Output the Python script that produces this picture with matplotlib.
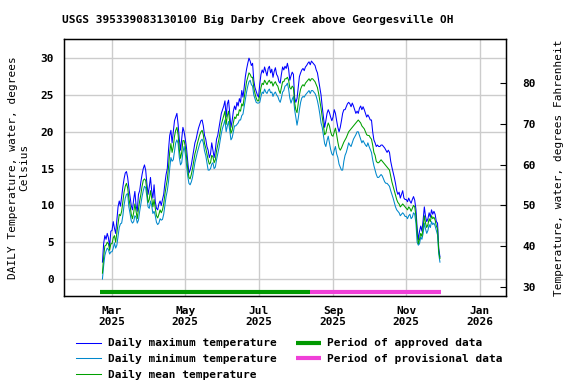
import matplotlib
matplotlib.use("Agg")
import matplotlib.pyplot as plt
import matplotlib.dates as mdates
import numpy as np
import pandas as pd

# daily values, degrees Celsius, starting 2025-02-21
start_date = "2025-02-21"

max_temp = (
    # Feb 21-28
    [2.3, 4.8, 5.9, 5.4, 6.2, 5.6, 4.4, 6.5]
    # Mar
    + [6.6, 7.8, 6.9, 6.2, 8.0, 9.8, 10.6, 9.9, 11.2, 12.5, 13.6, 14.4, 14.6, 13.8, 12.4, 11.2,
       10.0, 9.4, 10.8, 11.9, 10.0, 9.2, 11.5, 12.0, 13.2, 14.2, 15.0, 15.5, 14.8, 13.0, 11.5]
    # Apr
    + [12.5, 13.8, 12.0, 11.0, 12.8, 10.5, 9.6, 9.4, 10.2, 10.6, 10.0, 10.8, 11.5, 13.0, 14.2,
       15.0, 17.5, 19.5, 20.2, 18.5, 20.0, 21.5, 22.0, 22.5, 21.0, 19.0, 17.5, 19.0, 20.6, 20.0]
    # May
    + [19.0, 17.8, 16.0, 14.4, 14.8, 15.5, 16.5, 17.5, 18.5, 19.0, 19.8, 20.5, 21.0, 21.5, 21.6,
       20.8, 19.5, 19.0, 18.0, 17.5, 16.5, 17.0, 18.5, 17.5, 16.5, 17.5, 19.0, 19.5, 20.5, 21.5, 22.5]
    # Jun
    + [23.0, 23.5, 24.2, 22.0, 23.8, 24.3, 22.5, 20.6, 21.5, 22.8, 23.5, 23.0, 24.0, 23.5, 24.5,
       24.0, 25.6, 24.7, 26.0, 27.5, 28.5, 29.3, 30.0, 29.6, 29.0, 29.3, 27.0, 26.0, 25.5, 25.0]
    # Jul
    + [24.7, 26.5, 27.8, 28.4, 28.0, 28.8, 28.2, 27.6, 28.6, 28.9, 28.0, 28.5, 27.4, 28.2, 28.7,
       27.8, 27.5, 26.8, 26.6, 27.8, 28.8, 28.4, 28.9, 28.6, 29.3, 28.5, 27.0, 27.6, 28.1, 27.8, 24.7]
    # Aug
    + [24.0, 24.5, 26.0, 27.5, 28.0, 28.4, 28.6, 28.3, 28.8, 29.0, 29.3, 29.5, 29.1, 29.6, 29.4,
       29.2, 29.0, 28.4, 28.0, 27.0, 26.0, 25.0, 23.4, 22.0, 20.6, 21.5, 22.5, 23.0, 22.6, 22.0, 21.5]
    # Sep
    + [22.0, 23.0, 22.5, 21.5, 20.6, 20.0, 20.6, 21.5, 22.5, 23.0, 23.0, 23.4, 23.8, 24.0, 23.8,
       23.4, 23.9, 23.5, 23.0, 22.5, 22.8, 22.5, 23.2, 23.5, 23.0, 23.4, 23.0, 22.5, 22.0, 22.3]
    # Oct
    + [22.0, 21.6, 21.6, 20.0, 18.9, 18.5, 18.0, 18.2, 18.0, 18.0, 18.2, 18.2, 18.0, 17.8, 17.5,
       17.2, 17.5, 17.2, 16.0, 15.2, 14.5, 13.8, 13.0, 12.0, 11.5, 11.8, 11.0, 11.5, 12.0, 11.0, 10.8]
    # Nov 1-29
    + [10.8, 10.5, 11.0, 10.6, 10.3, 10.8, 11.2, 10.7, 9.5, 7.0, 5.3, 6.5, 7.2, 6.5, 8.0,
       9.8, 8.5, 7.8, 8.2, 9.0, 8.4, 9.4, 8.8, 9.2, 8.8, 7.8, 7.6, 4.2, 3.0]
)

mean_temp = (
    [0.8, 3.0, 4.5, 4.6, 5.0, 4.8, 3.9, 4.8]
    + [4.8, 5.6, 5.9, 5.0, 6.2, 7.5, 8.8, 8.6, 9.2, 10.5, 11.8, 12.6, 13.0, 12.4, 11.0, 10.0,
       8.8, 8.2, 9.0, 10.2, 9.2, 8.2, 9.5, 10.6, 11.5, 12.6, 13.4, 13.6, 13.4, 12.0, 10.4]
    + [10.8, 12.0, 11.0, 9.8, 10.8, 9.6, 8.6, 8.3, 8.8, 9.4, 9.0, 9.4, 10.2, 11.5, 12.6,
       13.5, 15.2, 17.2, 18.4, 17.2, 18.0, 19.4, 20.2, 20.6, 19.6, 17.6, 16.4, 17.2, 18.8, 18.8]
    + [18.0, 16.6, 15.0, 13.8, 13.6, 14.2, 15.0, 16.0, 17.0, 17.6, 18.4, 19.0, 19.6, 20.0, 20.2,
       19.6, 18.4, 17.8, 17.0, 16.2, 15.6, 15.8, 16.8, 16.6, 15.8, 16.2, 17.4, 18.2, 19.0, 20.0, 21.0]
    + [21.6, 22.2, 22.8, 21.0, 22.2, 22.8, 21.2, 19.8, 20.2, 21.2, 22.0, 21.8, 22.4, 22.2, 23.0,
       22.8, 23.8, 23.5, 24.6, 25.8, 26.8, 27.4, 28.0, 27.8, 27.4, 27.4, 26.0, 25.2, 24.6, 24.2]
    + [24.2, 25.0, 26.0, 26.6, 26.4, 27.0, 26.7, 26.4, 26.8, 27.0, 26.6, 26.8, 26.2, 26.6, 26.8,
       26.4, 26.2, 25.6, 25.2, 26.0, 26.8, 26.8, 27.2, 27.2, 27.4, 27.0, 26.0, 25.8, 26.2, 26.0, 24.0]
    + [23.0, 22.6, 23.8, 25.0, 25.8, 26.2, 26.4, 26.2, 26.6, 26.8, 27.0, 27.2, 26.9, 27.2, 27.2,
       27.0, 26.8, 26.4, 26.0, 25.2, 24.2, 23.2, 22.0, 20.8, 19.6, 19.8, 20.6, 21.2, 20.8, 20.0, 19.5]
    + [19.4, 20.0, 20.5, 19.6, 18.6, 17.8, 17.5, 17.8, 18.2, 18.6, 18.9, 19.2, 19.6, 20.0, 20.2,
       20.4, 20.6, 20.8, 21.0, 21.2, 21.4, 21.6, 21.4, 21.2, 20.8, 20.6, 20.4, 20.0, 19.6, 19.5]
    + [19.5, 19.2, 19.0, 18.2, 17.2, 16.8, 16.0, 15.8, 15.8, 16.0, 16.2, 16.0, 15.8, 15.6, 15.4,
       15.2, 15.0, 14.8, 14.0, 13.2, 12.6, 12.0, 11.4, 10.8, 10.4, 10.2, 9.8, 10.0, 10.2, 10.0, 9.8]
    + [9.6, 9.4, 9.8, 9.6, 9.2, 9.6, 10.0, 9.8, 8.6, 6.2, 4.8, 5.4, 6.2, 5.8, 7.0,
       8.6, 7.6, 7.0, 7.4, 8.2, 7.8, 8.6, 8.2, 8.4, 8.0, 7.2, 6.8, 3.8, 2.8]
)

min_temp = (
    [0.0, 1.8, 3.2, 3.8, 4.2, 4.0, 3.4, 3.7]
    + [3.7, 4.2, 4.9, 4.2, 4.6, 5.8, 7.0, 7.5, 7.6, 8.6, 10.0, 11.0, 11.5, 11.6, 9.8, 8.9,
       7.9, 7.6, 7.8, 8.6, 8.4, 7.6, 8.0, 9.2, 10.2, 11.2, 12.0, 12.6, 12.4, 11.2, 9.8]
    + [9.6, 10.6, 10.0, 8.9, 9.2, 8.6, 7.7, 7.4, 7.6, 8.2, 8.0, 8.1, 8.8, 10.0, 11.2,
       12.0, 13.2, 15.0, 16.5, 16.0, 16.2, 17.4, 18.5, 18.9, 18.4, 16.5, 15.5, 15.8, 17.2, 18.0]
    + [17.0, 15.5, 14.0, 13.0, 12.8, 13.2, 13.8, 14.8, 15.8, 16.5, 17.2, 17.8, 18.4, 18.8, 19.0,
       18.5, 17.4, 16.8, 15.8, 14.8, 14.8, 15.0, 15.6, 15.8, 15.0, 15.2, 16.2, 17.0, 17.8, 18.8, 19.8]
    + [20.5, 21.0, 21.6, 20.0, 20.8, 21.4, 20.2, 18.9, 19.2, 20.0, 20.8, 20.8, 21.0, 21.2, 21.6,
       21.6, 22.2, 22.4, 23.4, 24.4, 25.4, 26.2, 26.8, 27.0, 26.4, 26.2, 25.0, 24.5, 24.0, 23.9]
    + [23.9, 24.0, 24.8, 25.4, 25.2, 25.8, 25.4, 25.2, 25.6, 25.8, 25.3, 25.4, 24.8, 25.2, 25.4,
       25.0, 24.8, 24.3, 24.0, 24.6, 25.4, 25.6, 26.2, 26.3, 26.6, 25.8, 24.6, 23.9, 24.4, 24.8, 23.0]
    + [22.0, 20.9, 21.8, 23.0, 24.0, 24.6, 24.8, 24.7, 25.0, 25.2, 25.4, 25.6, 25.2, 25.6, 25.6,
       25.4, 25.2, 24.8, 24.2, 23.4, 22.4, 21.2, 20.6, 19.5, 18.4, 18.0, 18.8, 19.4, 18.5, 17.6, 17.0]
    + [16.8, 17.5, 18.0, 17.0, 16.5, 15.6, 15.2, 14.8, 14.8, 16.0, 16.8, 17.2, 17.8, 18.5, 18.2,
       18.0, 18.5, 19.0, 19.3, 19.6, 20.0, 20.0, 19.5, 19.0, 18.5, 18.8, 18.5, 18.2, 18.0, 18.5]
    + [18.0, 17.6, 17.2, 16.2, 15.4, 14.8, 14.2, 13.8, 13.8, 14.0, 14.2, 14.0, 13.6, 13.2, 13.0,
       13.0, 12.8, 12.6, 12.0, 11.5, 11.0, 10.4, 9.8, 9.4, 9.2, 9.0, 8.6, 8.8, 9.0, 8.8, 8.5]
    + [8.5, 8.2, 8.6, 8.8, 8.2, 8.4, 9.0, 8.8, 7.6, 5.0, 4.6, 4.8, 5.7, 5.4, 6.2,
       7.6, 6.8, 6.2, 6.6, 7.4, 7.0, 7.8, 7.4, 7.6, 7.2, 6.6, 6.0, 3.4, 2.3]
)

approved_period = ("2025-02-19", "2025-08-13")
provisional_period = ("2025-08-13", "2025-11-30")
period_bar_level = -1.7

dates = pd.date_range(start_date, periods=len(max_temp), freq="D")

title = "USGS 395339083130100 Big Darby Creek above Georgesville OH"
font = "DejaVu Sans Mono"
fs = 8

plt.rcParams["font.family"] = font
plt.rcParams["font.size"] = fs
plt.rcParams["font.weight"] = "bold"

fig = plt.figure(figsize=(5.76, 3.84), dpi=100)
ax = fig.add_axes([64 / 576, 88 / 384, 442 / 576, 257 / 384])

ax.plot(dates, max_temp, color="#0000ff", lw=0.75, label="Daily maximum temperature")
ax.plot(dates, min_temp, color="#0088cc", lw=0.75, label="Daily minimum temperature")
ax.plot(dates, mean_temp, color="#00a000", lw=0.75, label="Daily mean temperature")

ax.plot(pd.to_datetime(list(approved_period)), [period_bar_level] * 2,
        color="#009900", lw=3, solid_capstyle="butt", label="Period of approved data")
ax.plot(pd.to_datetime(list(provisional_period)), [period_bar_level] * 2,
        color="#f040d8", lw=3, solid_capstyle="butt", label="Period of provisional data")

ax.set_xlim(pd.Timestamp("2025-01-20"), pd.Timestamp("2026-01-23"))
ax.set_ylim(-2.3, 32.6)
ax.set_yticks(np.arange(0, 31, 5))
ax.xaxis.set_major_locator(mdates.MonthLocator(bymonth=[1, 3, 5, 7, 9, 11]))
ax.xaxis.set_major_formatter(mdates.DateFormatter("%b\n%Y"))
ax.grid(True, color="#cccccc", lw=1)
ax.set_axisbelow(True)
ax.tick_params(axis="both", length=0, pad=7)
for s in ax.spines.values():
    s.set_linewidth(1)

ax.set_ylabel("DAILY Temperature, water, degrees\nCelsius", labelpad=8)

ax2 = ax.twinx()
lo, hi = ax.get_ylim()
ax2.set_ylim(lo * 1.8 + 32, hi * 1.8 + 32)
ax2.set_yticks(np.arange(30, 81, 10))
ax2.tick_params(axis="y", direction="in", length=4, pad=12)
ax2.set_ylabel("Temperature, water, degrees Fahrenheit", labelpad=13)

fig.text(258 / 576, 1 - 20 / 384, title, ha="center", va="center", fontsize=fs, weight="bold")

h, l = ax.get_legend_handles_labels()
fig.legend(h, l, loc="upper left", bbox_to_anchor=(72 / 576, 1 - 334 / 384), ncol=2,
           frameon=False, fontsize=fs, handlelength=2.2, handletextpad=0.6,
           columnspacing=1.8, labelspacing=0.5, borderaxespad=0)

fig.savefig("out.png", dpi=100)
